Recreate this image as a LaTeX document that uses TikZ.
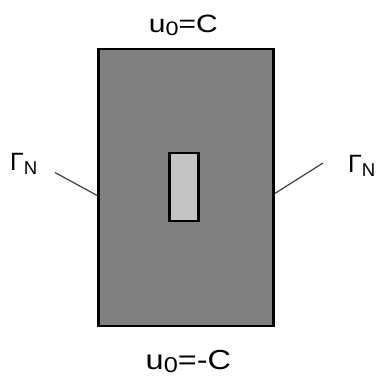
\documentclass[tikz,border=0pt]{standalone}
\usepackage{fontspec}
\setmainfont{Liberation Sans}
\begin{document}
\begin{tikzpicture}[x=1pt,y=-1pt,
  lbl/.style={inner sep=0pt,anchor=base},
  box/.style={draw=black,line width=2.6pt},
  lead/.style={draw=black!75,line width=1.2pt}]
\useasboundingbox (0,0) rectangle (377,375);
\node[box,fill=black!50,minimum width=175pt,minimum height=277pt,inner sep=0pt] (dom) at (186,187.3) {};
\node[box,fill=black!23,minimum width=29pt,minimum height=68pt,inner sep=0pt] (hole) at (184.2,186.8) {};
\node[lbl,font=\fontsize{25}{28}\selectfont] (top) at (183.3,32.7) {\scalebox{1.2}[1]{u\raisebox{-2.7pt}{\fontsize{19.5}{20}\selectfont 0}=C}};
\node[lbl,font=\fontsize{27.5}{30}\selectfont] (bot) at (188.4,369) {\scalebox{1.18}[1]{u\raisebox{-3pt}{\fontsize{21.5}{22}\selectfont 0}=-C}};
\node[lbl,anchor=base west,font=\fontsize{25}{28}\selectfont] (gl) at (10,170) {Γ\raisebox{-4pt}{\fontsize{18.6}{20}\selectfont N}};
\node[lbl,anchor=base west,font=\fontsize{25}{28}\selectfont] (gr) at (348,172.5) {Γ\raisebox{-4pt}{\fontsize{18.6}{20}\selectfont N}};
\coordinate (la) at (55,172.5);
\coordinate (ra) at (323,163);
\draw[lead] (la) -- (dom.west |- 0,195.5);
\draw[lead] (ra) -- (dom.east |- 0,193.5);
\end{tikzpicture}
\end{document}
